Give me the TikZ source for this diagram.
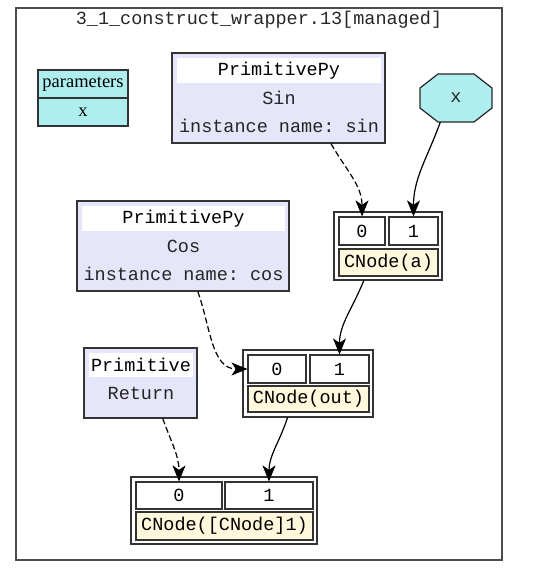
\documentclass[tikz,border=0pt]{standalone}
\usepackage{fontspec}
\setmainfont{Liberation Serif}
\setmonofont{Liberation Mono}
\usetikzlibrary{arrows.meta}
\definecolor{lavender}{HTML}{E6E6FA}
\definecolor{paleturq}{HTML}{AFEEEE}
\definecolor{cornsilk}{HTML}{FFF8DC}
\definecolor{gvline}{HTML}{333333}
\newcommand{\gvtt}{\ttfamily\fontsize{18.5}{22}\selectfont}
\newcommand{\gvrm}{\rmfamily\fontsize{18.5}{22}\selectfont}
\tikzset{%
  cluster/.style  = {draw=black!70, line width=1.3pt},%
  prim/.style     = {shape=rectangle, draw=gvline, fill=lavender,%
                     line width=1.2pt, inner sep=0pt},%
  head/.style     = {shape=rectangle, fill=white, inner sep=0pt, font=\gvtt},%
  txt/.style      = {inner sep=0pt, font=\gvtt, text=black!85},%
  param/.style    = {shape=rectangle, draw=gvline, fill=paleturq,%
                     line width=1.2pt, inner sep=0pt, font=\gvrm,%
                     minimum width=90pt, minimum height=28pt},%
  recframe/.style = {shape=rectangle, draw=gvline, fill=white,%
                     line width=1.2pt, inner sep=0pt},%
  port/.style     = {shape=rectangle, draw=gvline, fill=white,%
                     line width=1.2pt, inner sep=0pt, font=\gvtt,%
                     minimum height=28pt},%
  cnode/.style    = {port, fill=cornsilk},%
  flow/.style     = {line width=1.2pt, draw=black},%
  ctrl/.style     = {flow, dash pattern=on 6pt off 3pt}%
}
\begin{document}
\begin{tikzpicture}[x=1pt,y=-1pt,
	>={Stealth[length=16pt,width=13pt,inset=4.5pt,line width=0.8pt]}]
	\useasboundingbox (0,0) rectangle (542,578);
	\draw [cluster] (16,8) rectangle (502,560);
	\node [txt] (title) at (259,20) {3\_1\_construct\_wrapper.13[managed]};
	\node [param] (params) at (83,84) {parameters};
	\node [param] (paramx) at (83,112) {x};
	\node [prim, minimum width=213pt, minimum height=90pt] (sin) at (278.5,98) {};
	\node [head, minimum width=204pt, minimum height=25pt] (sinhead) at (279,70.5) {PrimitivePy};
	\node [txt] (sinop) at (279,98) {Sin};
	\node [txt] (sinname) at (279,126) {instance name: sin};
	\draw [draw=black!85, fill=paleturq, line width=1.2pt]
		(438,74) -- (474,74) -- (492,88) -- (492,108) -- (474,122)
		-- (438,122) -- (420,108) -- (420,88) -- cycle;
	\node [txt, minimum width=72pt, minimum height=48pt] (x) at (456,98) {x};
	\node [recframe, minimum width=108pt, minimum height=68pt] (aframe) at (388,246) {};
	\node [port, minimum width=46pt] (a0) at (362,231) {0};
	\node [port, minimum width=49pt] (a1) at (413.5,231) {1};
	\node [cnode, minimum width=99pt, minimum height=27pt] (alab) at (388.5,262.5) {CNode(a)};
	\node [prim, minimum width=212pt, minimum height=90pt] (cos) at (183,246) {};
	\node [head, minimum width=203pt, minimum height=25pt] (coshead) at (183.5,218.5) {PrimitivePy};
	\node [txt] (cosop) at (183.5,246) {Cos};
	\node [txt] (cosname) at (183.5,274) {instance name: cos};
	\node [recframe, minimum width=130pt, minimum height=67pt] (outframe) at (308,383.5) {};
	\node [port, minimum width=58pt] (out0) at (277,369) {0};
	\node [port, minimum width=59pt] (out1) at (339.5,369) {1};
	\node [cnode, minimum width=121pt, minimum height=26pt] (outlab) at (308.5,399) {CNode(out)};
	\node [prim, minimum width=113pt, minimum height=70pt] (ret) at (140.5,383) {};
	\node [head, minimum width=104pt, minimum height=24pt] (rethead) at (141,365) {Primitive};
	\node [txt] (retop) at (141,393) {Return};
	\node [recframe, minimum width=186pt, minimum height=67pt] (cframe) at (224,510.5) {};
	\node [port, minimum width=86pt, minimum height=27pt] (c0) at (179,495.5) {0};
	\node [port, minimum width=88pt, minimum height=27pt] (c1) at (269,495.5) {1};
	\node [cnode, minimum width=177pt] (clab) at (224.5,526) {CNode([CNode]1)};
	\draw [->, ctrl] (sin.-41) to[out=-60,in=90] (a0.north);
	\draw [->, flow] (x.-123) to[out=-110,in=90] (a1.north);
	\draw [->, ctrl] (cos.-72) to[out=-70,in=180] (out0.west);
	\draw [->, flow] (aframe.-125) to[out=-112,in=90] (out1.north);
	\draw [->, ctrl] (ret.-58) to[out=-70,in=90] (c0.north);
	\draw [->, flow] (outframe.-121) to[out=-108,in=90] (c1.north);
\end{tikzpicture}
\end{document}
